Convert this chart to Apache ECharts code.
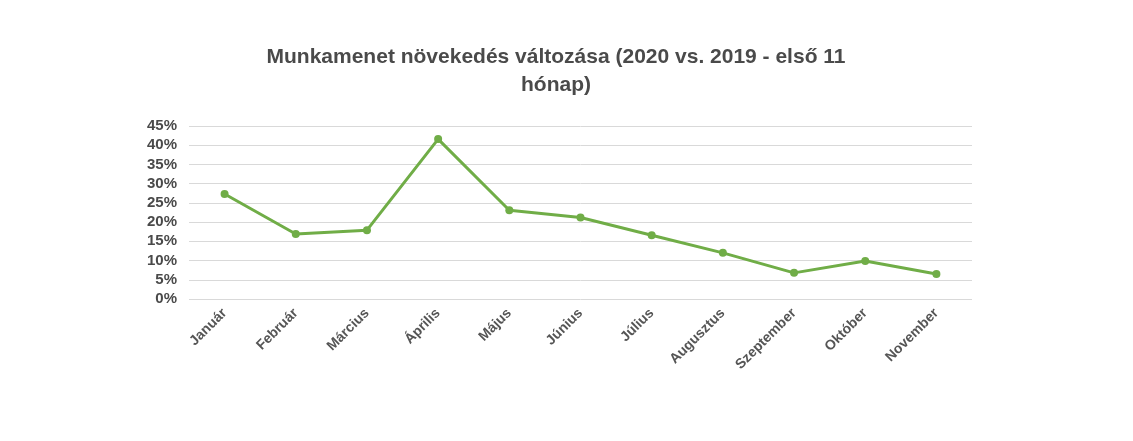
<!DOCTYPE html><html><head><meta charset="utf-8"><script src="https://cdn.jsdelivr.net/npm/echarts@6/dist/echarts.min.js"></script></head><body style="margin:0;background:#fff"><div id="c" style="width:1133px;height:441px"></div><script>
const categories=['Január','Február','Március','Április','Május','Június','Július','Augusztus','Szeptember','Október','November'];
const values=[27.3,16.9,17.9,41.6,23.1,21.2,16.6,12,6.8,9.9,6.5];
const yTicks=[0,5,10,15,20,25,30,35,40,45];
const c=echarts.init(document.getElementById('c'));
c.setOption({
title:{text:'Munkamenet növekedés változása (2020 vs. 2019 - első 11\nhónap)',left:551,textAlign:'center',top:38,textStyle:{fontFamily:'Liberation Sans',fontSize:21,fontWeight:'bold',color:'#4a4a4a',lineHeight:28}},
grid:{left:189,right:161,top:126,bottom:142},
xAxis:{type:'category',data:categories,boundaryGap:true,axisLine:{show:false},axisTick:{show:false},axisLabel:{rotate:45,interval:0,fontFamily:'Liberation Sans',fontWeight:'bold',fontSize:14,color:'#555',margin:12}},
yAxis:{type:'value',min:0,max:45,interval:5,axisLine:{show:false},axisTick:{show:false},splitLine:{lineStyle:{color:'#d9d9d9'}},axisLabel:{formatter:'{value}%',fontFamily:'Liberation Sans',fontWeight:'bold',fontSize:15,color:'#4a4a4a',margin:12}},
series:[{type:'line',data:values,symbol:'circle',symbolSize:8,itemStyle:{color:'#70ad47'},lineStyle:{color:'#70ad47',width:3}}]
});
</script></body></html>
